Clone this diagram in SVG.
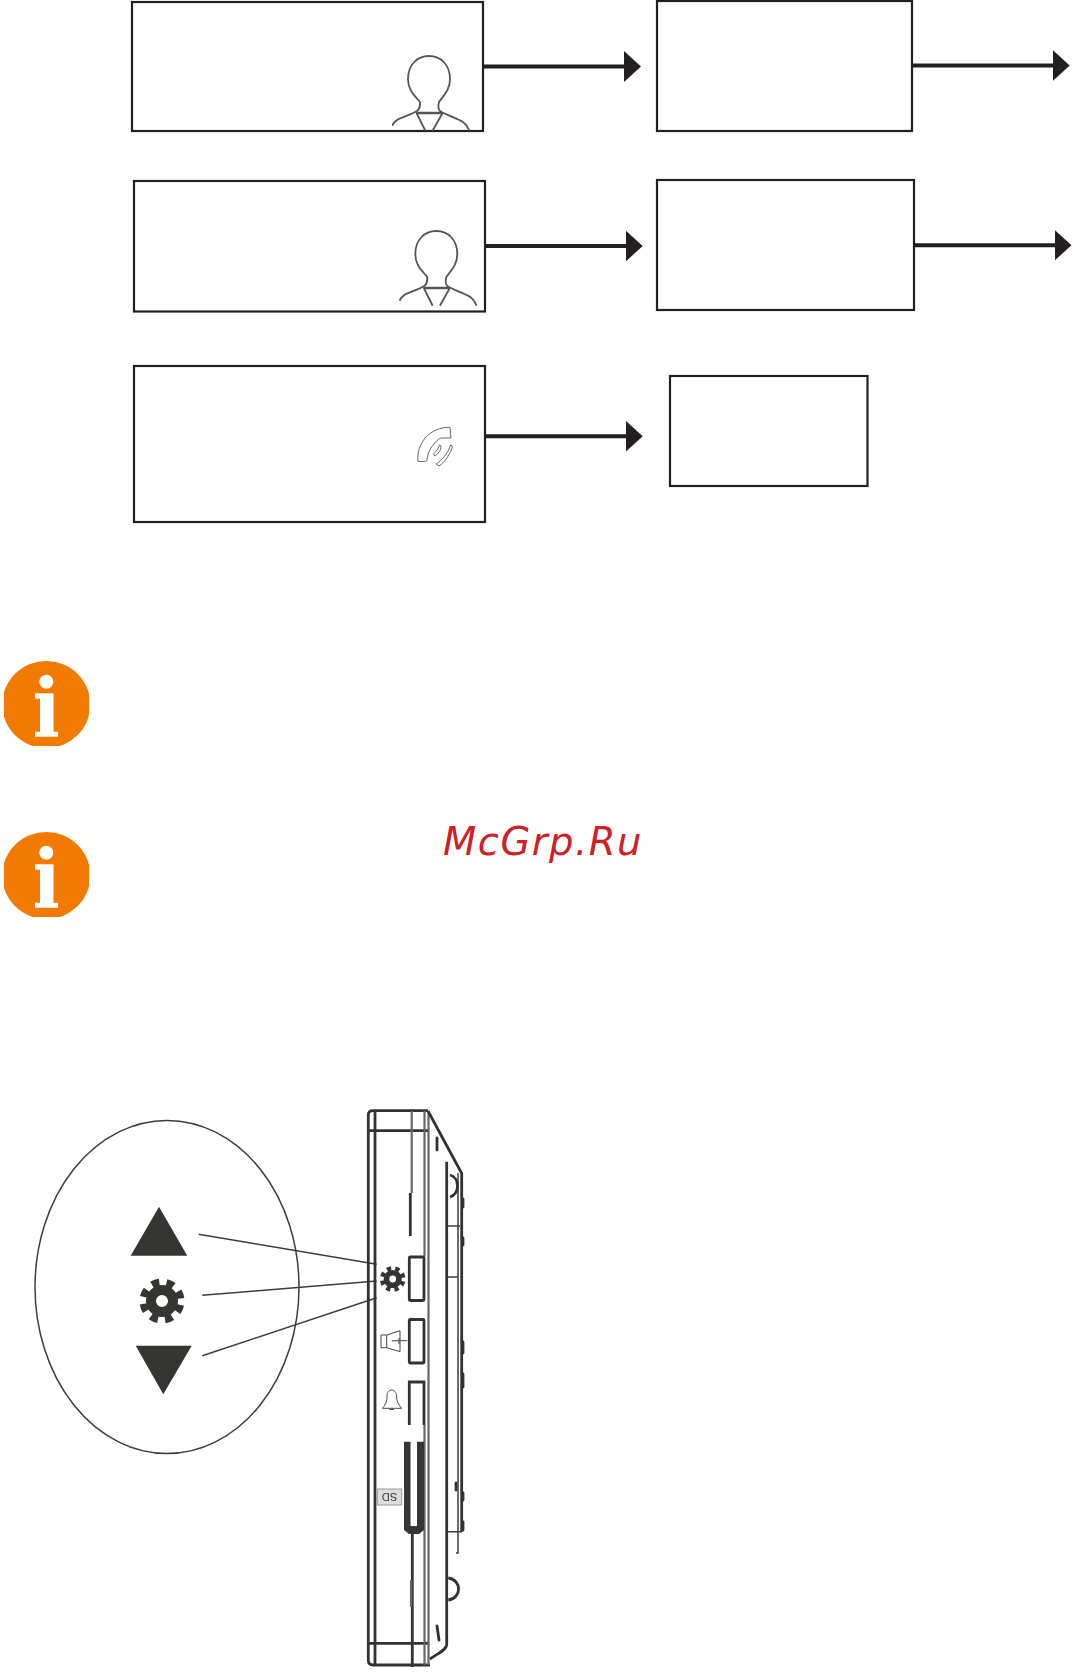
<svg xmlns="http://www.w3.org/2000/svg" width="1073" height="1680" viewBox="0 0 1073 1680">
<style>
.box{fill:#fff;stroke:#231f20;stroke-width:2.2}
.conn{fill:none;stroke:#231f20;stroke-width:4;marker-end:url(#head)}
.info{fill:#f37a00}
.ln{fill:none;stroke:#3c3c3a;stroke-width:1.5}
.thin{fill:none;stroke:#444;stroke-width:1}
.fat{fill:none;stroke:#333;stroke-width:2.8}
.gray{fill:none;stroke:#666;stroke-width:2.2}
.dark{fill:#343432}
.pers{fill:none;stroke:#555;stroke-width:1.8;stroke-linecap:round}
</style>
<defs>
<filter id="soft" x="-5%" y="-5%" width="110%" height="110%"><feGaussianBlur stdDeviation="0.450"/></filter>
<marker id="head" markerUnits="userSpaceOnUse" markerWidth="17" markerHeight="31" refX="1" refY="15.5" orient="auto"><path d="M0 0L17 15.5L0 31Z" fill="#231f20"/></marker>
<clipPath id="ic"><rect x="4" y="0" width="85" height="85"/></clipPath>
<g id="infoIcon">
<ellipse class="info" cx="46.300" cy="43.500" rx="44" ry="43.500" clip-path="url(#ic)"/>
<ellipse cx="46.300" cy="20.700" rx="7" ry="7" fill="#fff"/>
<path fill="#fff" d="M35 32.300H53.500V70.700H58.100V75.700H35V70.700H40V37.700H35Z"/>
</g>
<g id="person">
<path d="M420 102C414 95 408 90 408 79C408 65 417 56 429 56C441 56 450 65 450 79C450 90 444 95 439 102C438 106 438 109 440 111C446 115 456 118 463 122C467 125 468 127 469 130M420 102C420 106 420 109 417 111C411 115 401 117 397 120C395 122 393 123 392.700 125"/>
<path d="M417 113H442" stroke-width="2.400"/>
<path d="M417 114L425 130M442 114L433 130"/>
</g>
<g id="gear">
<circle r="11" fill="none" stroke="#343432" stroke-width="10"/>
<circle r="18.500" fill="none" stroke="#343432" stroke-width="8" stroke-dasharray="7.500 7.030" transform="rotate(12)"/>
</g>
</defs>
<rect width="1073" height="1680" fill="#fff"/>

<g id="connectors">
<path class="conn" d="M483.500 66.500H625"/>
<path class="conn" d="M912 65.500H1053.700"/>
<path class="conn" d="M485 246H626.700"/>
<path class="conn" d="M914 245.200H1055.500"/>
<path class="conn" d="M485 436.300H626.700"/>
</g>

<g id="node-1"><rect class="box" x="132" y="2" width="351" height="129"/><use href="#person" class="pers"/></g>
<g id="node-2"><rect class="box" x="657" y="1" width="255" height="130"/></g>
<g id="node-3"><rect class="box" x="134" y="181" width="351" height="130.500"/><use href="#person" class="pers" transform="translate(7.300 175)"/></g>
<g id="node-4"><rect class="box" x="657" y="180" width="257" height="130"/></g>
<g id="node-5"><rect class="box" x="134" y="366" width="351" height="156"/>
<g fill="none" stroke="#666" stroke-width="1">
<path d="M450 427.300L451 438H441.700C438 438 431 446 428 454L427 460C427 462 423 461.700 418 461.300C417 452 420 445 425 438C431 431 441 427 450 427.300Z"/>
<path d="M433.500 454C437 451 439 447 439.500 445L441 446C441 450 438 454 435 456Z"/>
<path d="M436 464C443 460 449 451 450.500 445L452.500 446C451 453 445 462 439 466Z"/>
</g></g>
<g id="node-6"><rect class="box" x="670" y="376" width="197.500" height="110"/></g>

<g id="info-1"><use href="#infoIcon" transform="translate(0 661)"/></g>
<g id="info-2"><use href="#infoIcon" transform="translate(0 832)"/></g>
<text id="watermark" x="443" y="855" font-family="DejaVu Sans, sans-serif" font-style="italic" font-size="38.500" letter-spacing="1.500" fill="#cd2027">McGrp.Ru</text>

<g id="callout" filter="url(#soft)">
<ellipse class="ln" cx="167" cy="1287" rx="132" ry="166.500"/>
<path class="dark" d="M159 1206.700L187.300 1255.700H130.700Z"/>
<path class="dark" d="M135.700 1345.700H191.700L163.300 1394.300Z"/>
<use href="#gear" transform="translate(162 1301)"/>
<path class="ln" d="M198.700 1234.300L376.700 1264.300M202.300 1295.300L376.700 1281M202.300 1355.700L376.700 1297.700"/>
</g>

<g id="device" filter="url(#soft)">
<path class="fat" d="M428 1110.700H373C370 1110.700 368.300 1112.500 368.300 1115V1660C368.300 1663 370 1665 373 1665H430"/>
<path class="fat" d="M375 1111V1665M368.300 1130.700H428M368.300 1643.300H428"/>
<path class="gray" d="M411.700 1111V1193M424.500 1111V1256M428.500 1111V1665M424.500 1425V1665"/>
<path class="fat" d="M428 1111L461.700 1173.300V1531.700"/>
<path class="fat" d="M446.700 1161.700V1645C446 1650 440 1652 430 1659"/>
<path class="ln" d="M458 1173V1553H456M446.700 1226H460M446.700 1277H458M446.700 1531.700H462"/>
<path class="fat" d="M450 1175C460 1178 460 1194 450 1197M448.300 1578C462 1580 462 1598 448.300 1600"/>
<path class="fat" stroke-width="4" stroke-linecap="round" d="M437 1138V1150M437 1626L439 1640M463 1199V1207M463 1238V1245M463 1342V1353M463 1374V1385M463 1382V1387M463 1493V1500M463 1522V1530M456 1483V1490"/>
<path class="fat" d="M410.300 1193V1236"/>
<rect class="fat" x="409.300" y="1257" width="14.700" height="43.500" rx="1"/>
<rect class="fat" x="409.300" y="1319.500" width="14.700" height="43.500" rx="1"/>
<path class="fat" d="M409.300 1425V1382H424V1425"/>
<path class="dark" d="M404 1441.700H410.500V1526H417V1441.700H424V1530L419 1534H409L404 1530Z"/>
<path class="fat" d="M412.300 1534V1667"/>
<path class="gray" d="M411 1580V1607"/>
<use href="#gear" transform="translate(392.700 1279) scale(.57)"/>
<path class="thin" stroke="#555" d="M381 1335H386.700V1347.700H381ZM386.700 1335L400 1330.700V1351.700L386.700 1347.700M391.700 1340.700H407.300M399 1338V1344"/>
<path class="thin" d="M382.500 1408.300C386 1404 387 1401 387 1396C387 1388 396.500 1388 396.500 1396C396.500 1401 398 1404 401.500 1408.300ZM389.500 1409.500H394"/>
<rect x="377.300" y="1489" width="24.400" height="16" fill="#ddd" stroke="#999" stroke-width="1"/>
<text x="389.500" y="1497" transform="rotate(180 389.500 1497)" text-anchor="middle" dominant-baseline="central" font-family="Liberation Sans, sans-serif" font-size="11" fill="#333">SD</text>
</g>
</svg>
